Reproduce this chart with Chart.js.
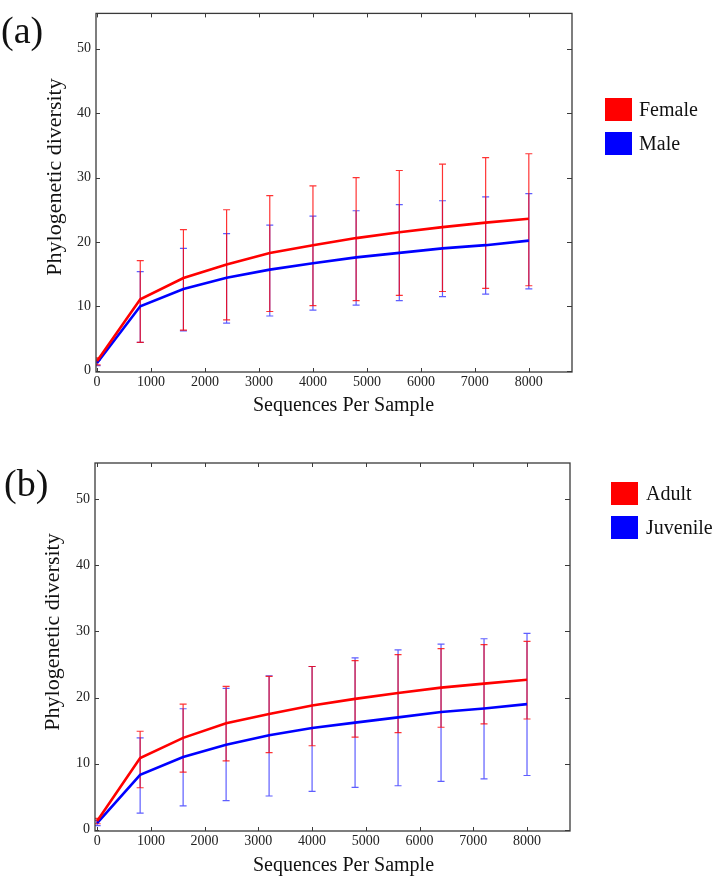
<!DOCTYPE html>
<html>
<head>
<meta charset="utf-8">
<script src="https://cdn.jsdelivr.net/npm/chart.js@4.4.1/dist/chart.umd.min.js"></script>
<style>
  html, body { margin: 0; padding: 0; background: #ffffff; }
  #wrap { position: relative; width: 714px; height: 879px; overflow: hidden; background: #fff; }
  canvas { position: absolute; left: 0; }
  .lg-box { position: absolute; width: 27px; height: 23px; }
  .lg-text { position: absolute; font-family: 'Liberation Serif', 'Times New Roman', serif; font-size: 20px; line-height: 20px; color: #111; white-space: nowrap; }
</style>
</head>
<body>
<div id="wrap">
  <canvas id="chartA" width="714" height="430" style="top:0px"></canvas>
  <canvas id="chartB" width="714" height="449" style="top:430px"></canvas>

  <div class="lg-box" style="left:605px;top:98px;background:#ff0000"></div>
  <div class="lg-text" style="left:639px;top:99px">Female</div>
  <div class="lg-box" style="left:605px;top:132px;background:#0000ff"></div>
  <div class="lg-text" style="left:639px;top:133px">Male</div>

  <div class="lg-box" style="left:611px;top:482px;background:#ff0000"></div>
  <div class="lg-text" style="left:646px;top:483px">Adult</div>
  <div class="lg-box" style="left:611px;top:516px;background:#0000ff"></div>
  <div class="lg-text" style="left:646px;top:517px">Juvenile</div>
</div>
<script>
// ---------------- data ----------------
const xValues = [0, 800, 1600, 2400, 3200, 4000, 4800, 5600, 6400, 7200, 8000];
const xTickValues = [0, 1000, 2000, 3000, 4000, 5000, 6000, 7000, 8000];
const yTickValues = [0, 10, 20, 30, 40, 50];

// (a) sex
const femaleMean = [1.5, 11.1, 14.4, 16.5, 18.3, 19.5, 20.6, 21.5, 22.3, 23.0, 23.6];
const femaleLow  = [0.9, 4.4, 6.3, 7.9, 9.2, 10.1, 10.9, 11.7, 12.3, 12.8, 13.2];
const femaleHigh = [2.0, 17.1, 21.9, 25.0, 27.2, 28.7, 30.0, 31.1, 32.1, 33.1, 33.7];

const maleMean = [1.2, 10.0, 12.7, 14.45, 15.7, 16.7, 17.6, 18.3, 19.0, 19.5, 20.2];
const maleLow  = [0.8, 4.4, 6.2, 7.4, 8.5, 9.4, 10.2, 10.9, 11.5, 11.9, 12.7];
const maleHigh = [1.6, 15.4, 19.0, 21.3, 22.6, 24.0, 24.85, 25.8, 26.4, 27.0, 27.5];

// (b) age
const adultMean = [1.3, 10.85, 13.9, 16.1, 17.5, 18.8, 19.8, 20.7, 21.5, 22.1, 22.7];
const adultLow  = [0.9, 6.35, 8.7, 10.4, 11.65, 12.7, 14.0, 14.7, 15.5, 16.0, 16.75];
const adultHigh = [1.7, 14.9, 19.0, 21.7, 23.2, 24.7, 25.6, 26.5, 27.4, 28.0, 28.5];

const juvenileMean = [1.0, 8.3, 11.0, 12.85, 14.3, 15.4, 16.2, 17.0, 17.8, 18.35, 19.0];
const juvenileLow  = [0.6, 2.5, 3.6, 4.4, 5.1, 5.8, 6.4, 6.65, 7.3, 7.7, 8.2];
const juvenileHigh = [1.4, 13.9, 18.3, 21.4, 23.3, 24.7, 26.0, 27.2, 28.1, 28.9, 29.7];

const xTitle = 'Sequences Per Sample';
const yTitle = 'Phylogenetic diversity';

// ---------------- helpers ----------------
const SERIF = "'Liberation Serif', 'Times New Roman', serif";

function pts(ys) { return xValues.map((x, i) => ({ x: x, y: ys[i] })); }

const errorBarPlugin = {
  id: 'errorBars',
  beforeDatasetsDraw(chart) {
    const ctx = chart.ctx;
    const xs = chart.scales.x, ys = chart.scales.y;
    const area = chart.chartArea;
    ctx.save();
    ctx.beginPath();
    ctx.rect(area.left, area.top, area.right - area.left, area.bottom - area.top);
    ctx.clip();
    const n = chart.data.datasets.length;
    for (let d = n - 1; d >= 0; d--) {
      const ds = chart.data.datasets[d];
      ctx.strokeStyle = ds.errColor;
      ctx.lineWidth = 1.2;
      for (let i = 0; i < xValues.length; i++) {
        const px = xs.getPixelForValue(xValues[i]);
        const pl = ys.getPixelForValue(ds.errLow[i]);
        const ph = ys.getPixelForValue(ds.errHigh[i]);
        const cap = 3.5;
        ctx.beginPath();
        ctx.moveTo(px, ph); ctx.lineTo(px, pl);
        ctx.moveTo(px - cap, ph); ctx.lineTo(px + cap, ph);
        ctx.moveTo(px - cap, pl); ctx.lineTo(px + cap, pl);
        ctx.stroke();
      }
    }
    ctx.restore();
  }
};

const framePlugin = {
  id: 'frame',
  afterDraw(chart, args, opts) {
    const ctx = chart.ctx;
    const a = chart.chartArea;
    const xs = chart.scales.x, ys = chart.scales.y;
    ctx.save();
    ctx.strokeStyle = '#3a3a3a';
    ctx.lineWidth = 1.3;
    ctx.strokeRect(a.left, a.top, a.right - a.left, a.bottom - a.top);
    ctx.lineWidth = 1;
    ctx.beginPath();
    xTickValues.forEach(v => {
      const px = Math.round(xs.getPixelForValue(v)) + 0.5;
      ctx.moveTo(px, a.bottom); ctx.lineTo(px, a.bottom - 4);
      ctx.moveTo(px, a.top); ctx.lineTo(px, a.top + 4);
    });
    yTickValues.forEach(v => {
      const py = Math.round(ys.getPixelForValue(v)) + 0.5;
      ctx.moveTo(a.left, py); ctx.lineTo(a.left + 4, py);
      ctx.moveTo(a.right, py); ctx.lineTo(a.right - 5, py);
    });
    ctx.stroke();

    // titles and panel label
    ctx.fillStyle = '#111';
    ctx.textAlign = 'center';
    ctx.textBaseline = 'alphabetic';
    ctx.font = '20px ' + SERIF;
    ctx.fillText(xTitle, opts.xTitleX, opts.xTitleY);

    ctx.save();
    ctx.translate(opts.yTitleX, opts.yTitleY);
    ctx.rotate(-Math.PI / 2);
    ctx.font = '22px ' + SERIF;
    ctx.fillText(yTitle, 0, 0);
    ctx.restore();

    ctx.textAlign = 'left';
    ctx.font = '38px ' + SERIF;
    ctx.fillText(opts.panel, opts.panelX, opts.panelY);
    ctx.restore();
  }
};

function makeChart(id, series, geom) {
  const datasets = series.map(s => ({
    label: s.label,
    data: pts(s.mean),
    errLow: s.low,
    errHigh: s.high,
    errColor: s.errColor,
    borderColor: s.color,
    backgroundColor: s.color,
    borderWidth: 2.6,
    pointRadius: 0,
    tension: 0,
    fill: false
  }));
  return new Chart(document.getElementById(id), {
    type: 'line',
    data: { datasets: datasets },
    options: {
      responsive: false,
      animation: false,
      devicePixelRatio: 1,
      layout: { padding: { left: 0, right: geom.padRight, top: geom.padTop, bottom: 0 } },
      plugins: {
        legend: { display: false },
        tooltip: { enabled: false },
        frame: geom.frame
      },
      scales: {
        x: {
          type: 'linear',
          min: geom.xMin, max: 8800,
          grid: { display: false, drawTicks: false },
          border: { display: false },
          afterBuildTicks: s => { s.ticks = xTickValues.map(v => ({ value: v })); },
          afterFit: s => { s.height = geom.xHeight; },
          ticks: {
            color: '#222', padding: 2, maxRotation: 0, autoSkip: false,
            font: { family: SERIF, size: 14 },
            callback: v => String(v)
          }
        },
        y: {
          type: 'linear',
          min: -0.2, max: 55.5,
          grid: { display: false, drawTicks: false },
          border: { display: false },
          afterBuildTicks: s => { s.ticks = yTickValues.map(v => ({ value: v })); },
          afterFit: s => { s.width = geom.yWidth; },
          ticks: {
            color: '#222', padding: 5,
            font: { family: SERIF, size: 14 },
            callback: v => String(v)
          }
        }
      }
    },
    plugins: [errorBarPlugin, framePlugin]
  });
}

makeChart('chartA', [
  { label: 'Female', mean: femaleMean, low: femaleLow, high: femaleHigh, color: '#ff0000', errColor: 'rgba(255,0,0,0.8)' },
  { label: 'Male', mean: maleMean, low: maleLow, high: maleHigh, color: '#0000ff', errColor: 'rgba(40,40,255,0.75)' }
], {
  padRight: 142, padTop: 4, xHeight: 58, yWidth: 96, xMin: -20,
  frame: { xTitleX: 343.5, xTitleY: 411, yTitleX: 61, yTitleY: 177, panel: '(a)', panelX: 1, panelY: 43 }
});

makeChart('chartB', [
  { label: 'Adult', mean: adultMean, low: adultLow, high: adultHigh, color: '#ff0000', errColor: 'rgba(255,0,0,0.8)' },
  { label: 'Juvenile', mean: juvenileMean, low: juvenileLow, high: juvenileHigh, color: '#0000ff', errColor: 'rgba(40,40,255,0.75)' }
], {
  padRight: 144, padTop: 33, xHeight: 48, yWidth: 95, xMin: -40,
  frame: { xTitleX: 343.5, xTitleY: 441, yTitleX: 59, yTitleY: 202, panel: '(b)', panelX: 4, panelY: 66 }
});
</script>
</body>
</html>
